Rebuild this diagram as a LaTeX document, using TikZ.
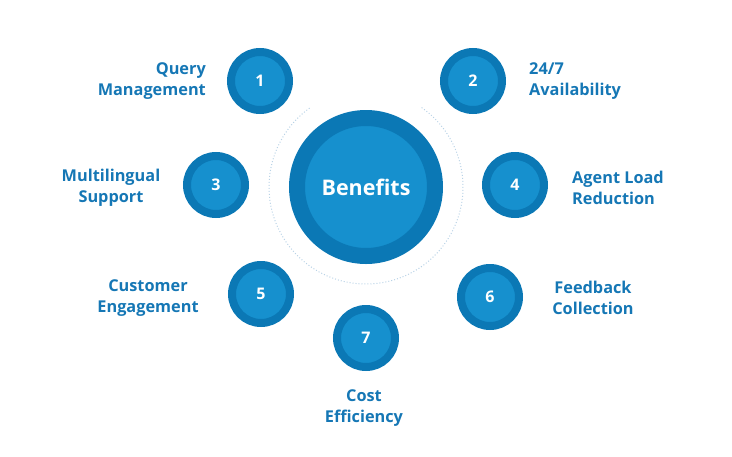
\documentclass[tikz,border=0pt]{standalone}
\usepackage{fontspec}
\setmainfont{Open Sans}
\definecolor{ring}{HTML}{0B78B5}
\definecolor{core}{HTML}{1690CE}
\definecolor{lab}{HTML}{1577B5}
\definecolor{dots}{HTML}{B9D3E6}
\begin{document}
\begin{tikzpicture}[x=1pt,y=-1pt,
  bub/.style={circle,draw=ring,line width=8pt,fill=core,minimum size=58pt,inner sep=0pt,text=white,font=\bfseries\fontsize{16}{18}\selectfont},
  lbl/.style={text=lab,font=\bfseries\fontsize{16.3}{21}\selectfont,inner sep=0pt}]
\useasboundingbox (0,0) rectangle (732,456);
\draw[dots,line width=1pt,dotted] (366,187) ++(-55:97) arc[start angle=-55,end angle=235,radius=97];
\node[bub,line width=16pt,minimum size=138pt,font=\bfseries\fontsize{21.5}{24}\selectfont] (c) at (366,187) {Benefits};
\node[bub] (n1) at (260,81) {1};
\node[bub] (n2) at (473,81) {2};
\node[bub] (n3) at (216,185) {3};
\node[bub] (n4) at (515,185) {4};
\node[bub] (n5) at (261,294) {5};
\node[bub] (n6) at (490,297) {6};
\node[bub] (n7) at (366,338) {7};
\node[lbl,align=right,anchor=east] (l1) at (206,81) {Query\\Management};
\node[lbl,align=left,anchor=west] (l2) at (529,81) {24/7\\Availability};
\node[lbl,align=center] (l3) at (111,188) {Multilingual\\Support};
\node[lbl,align=left,anchor=west] (l4) at (572,188) {Agent Load\\Reduction};
\node[lbl,align=center] (l5) at (148,298) {Customer\\Engagement};
\node[lbl,align=center] (l6) at (593,298) {Feedback\\Collection};
\node[lbl,align=center] (l7) at (364,408) {Cost\\Efficiency};
\end{tikzpicture}
\end{document}
